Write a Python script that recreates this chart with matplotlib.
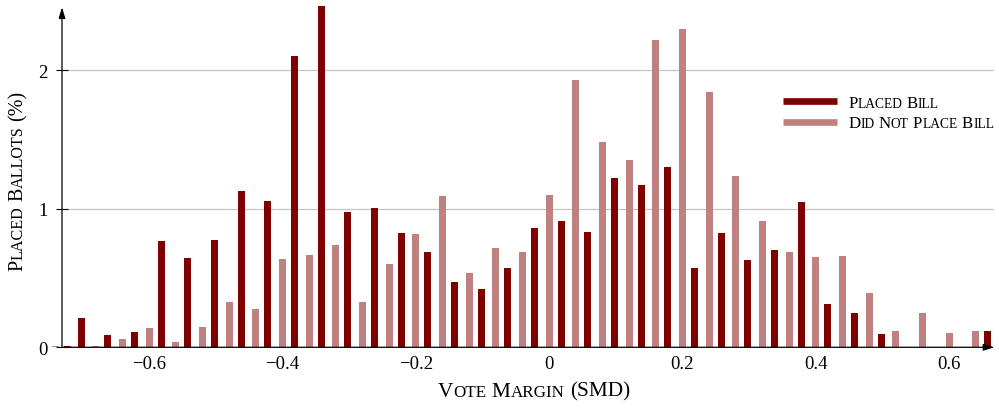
import matplotlib
matplotlib.use("Agg")
import matplotlib.pyplot as plt
from matplotlib.lines import Line2D
from matplotlib.transforms import IdentityTransform
import numpy as np

FONT = "Liberation Serif"
plt.rcParams['font.family'] = [FONT, 'DejaVu Serif']
plt.rcParams['axes.unicode_minus'] = True

# ---- data -------------------------------------------------------------
bins = [-0.74, -0.72, -0.68, -0.64, -0.60, -0.56, -0.52, -0.48, -0.44, -0.40,
        -0.36, -0.32, -0.28, -0.24, -0.20, -0.16, -0.12, -0.08, -0.04, 0.00,
        0.04, 0.08, 0.12, 0.16, 0.20, 0.24, 0.28, 0.32, 0.36, 0.40,
        0.44, 0.48, 0.52, 0.56, 0.60, 0.64]
did_not_place = [0.01, 0.0, 0.01, 0.06, 0.14, 0.04, 0.15, 0.33, 0.28, 0.64,
                 0.67, 0.74, 0.33, 0.60, 0.82, 1.09, 0.54, 0.72, 0.69, 1.10,
                 1.93, 1.48, 1.35, 2.22, 2.30, 1.84, 1.24, 0.91, 0.69, 0.65,
                 0.66, 0.39, 0.12, 0.245, 0.105, 0.12]
placed = [0.01, 0.21, 0.09, 0.11, 0.765, 0.645, 0.775, 1.125, 1.055, 2.105,
          2.465, 0.98, 1.005, 0.825, 0.685, 0.47, 0.42, 0.57, 0.86, 0.915,
          0.835, 1.225, 1.17, 1.30, 0.57, 0.825, 0.63, 0.70, 1.05, 0.315,
          0.245, 0.095, 0.0, 0.0, 0.0, 0.12]
xticks = [-0.6, -0.4, -0.2, 0.0, 0.2, 0.4, 0.6]
yticks = [0, 1, 2]
series_names = ["Placed Bill", "Did Not Place Bill"]
x_label = "Vote Margin (SMD)"
y_label = "Placed Ballots (%)"

DARK = "#800000"
LIGHT = "#bf8080"

W, H = 999, 410
fig = plt.figure(figsize=(W / 100, H / 100), dpi=100)
ax = fig.add_axes([62 / W, 61.7 / H, 932.4 / W, 340 / H])

bx = np.array(bins)
shift = 0.018
width = 0.0105
ax.bar(bx, did_not_place, width=width, color=LIGHT, linewidth=0, zorder=3, clip_on=False)
ax.bar(bx + shift, placed, width=width, color=DARK, linewidth=0, zorder=3, clip_on=False)

ax.set_xlim(-0.7305, 0.668)
ax.set_ylim(0, 2.455)
ax.set_xticks(xticks)
ax.set_xticklabels([("0" if v == 0 else f"{v:.1f}".replace("-", "\u2212")) for v in xticks])
ax.set_yticks(yticks)
ax.tick_params(axis='x', length=0, pad=5.5, labelsize=13.5)
ax.tick_params(axis='y', direction='inout', length=9.1, width=0.8, pad=6, labelsize=13.5)
for lab in ax.get_xticklabels() + ax.get_yticklabels():
    lab.set_fontfamily(FONT)

ax.yaxis.grid(True, color="#c4c4c4", linewidth=0.9, zorder=0)
ax.set_axisbelow(True)
for s in ax.spines.values():
    s.set_visible(False)

arrow_kw = dict(arrowstyle='-|>,head_length=0.65,head_width=0.2', color='black',
                lw=0.9, shrinkA=0, shrinkB=0)
ax.annotate('', xy=(1.0, 0), xytext=(0, 0), xycoords='axes fraction',
            arrowprops=arrow_kw, zorder=6, annotation_clip=False)
ax.annotate('', xy=(0, 1.0), xytext=(0, 0), xycoords='axes fraction',
            arrowprops=arrow_kw, zorder=6, annotation_clip=False)


# ---- small caps helper -------------------------------------------------
def sc_text(x, y, s, size, ratio=0.8, rotation=0, ha='left', color='black'):
    renderer = fig.canvas.get_renderer()
    items = []
    runs = []
    for ch in s:
        if ch == ' ':
            runs.append([' ', None])
            continue
        r = ratio if ch.islower() else 1.0
        t = ch.upper()
        if runs and runs[-1][1] == r:
            runs[-1][0] += t
        else:
            runs.append([t, r])
    for t, r in runs:
        if r is None:
            items.append((None, None, size * 0.25 * fig.dpi / 72))
        else:
            tmp = fig.text(0, 0, t, fontsize=size * r, family=FONT)
            w = tmp.get_window_extent(renderer).width
            tmp.remove()
            items.append((t, size * r, w))
    total = sum(w for _, _, w in items)
    pos = {'left': 0, 'center': -total / 2, 'right': -total}[ha]
    for t, sz, w in items:
        if t is not None:
            if rotation == 0:
                fig.text(x + pos, y, t, fontsize=sz, family=FONT, ha='left', va='baseline',
                         transform=IdentityTransform(), color=color)
            else:
                fig.text(x, y + pos, t, fontsize=sz, family=FONT, ha='left', va='baseline',
                         rotation=90, rotation_mode='anchor',
                         transform=IdentityTransform(), color=color)
        pos += w


fig.canvas.draw()
sc_text(534, H - 396.7, x_label, 15.3, ha='center')
sc_text(22.5, H - 181, y_label, 14.5, rotation=90, ha='center')

# legend
for i, (name, col) in enumerate(zip(series_names, [DARK, LIGHT])):
    yl = (H - (102.3 + 21 * i)) / H
    fig.add_artist(Line2D([783.3 / W, 836.7 / W], [yl, yl], color=col, lw=4.8,
                          transform=fig.transFigure, solid_capstyle='butt'))
    sc_text(848.3, H - (107.7 + 20.6 * i), name, 12.2)

fig.savefig("out.png", dpi=100)
